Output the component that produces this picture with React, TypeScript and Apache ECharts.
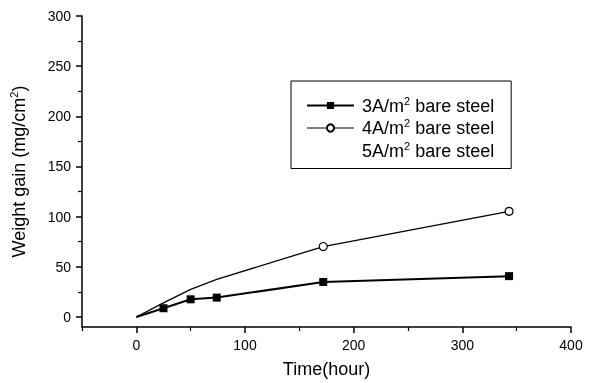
import React, { useEffect, useRef } from "react";
import * as echarts from "echarts";

const hours3A = [0, 25, 50, 74, 172, 343];
const gain3A = [0, 8.7, 17.6, 19.3, 34.9, 40.7];
const hours4A = [0, 24, 50, 74, 172, 343];
const gain4A = [0, 13.5, 27.5, 37.5, 70.2, 105.3];
const seriesNames = ["3A/m{sup|2} bare steel", "4A/m{sup|2} bare steel", "5A/m{sup|2} bare steel"];
const plainNames = ["3A/m2 bare steel", "4A/m2 bare steel", "5A/m2 bare steel"];
const xLabels = [0, 100, 200, 300, 400];
const xMinor = [-50, 50, 150, 250, 350];
const yLabels = [0, 50, 100, 150, 200, 250, 300];
const yMinor = [25, 75, 125, 175, 225, 275];
const circleShown = [false, false, false, false, true, true];
const squareShown = [false, true, true, true, true, true];

const FONT = "Liberation Sans, Arial, sans-serif";

export default function App() {
  const ref = useRef<HTMLDivElement>(null);
  useEffect(() => {
    if (!ref.current) return;
    const chart = echarts.init(ref.current, null, { renderer: "svg" });
    const axisLine = { show: true, onZero: false, lineStyle: { color: "#000", width: 1.5 } };
    const d3 = hours3A.map((h, i) => ({
      value: [h, gain3A[i]],
      symbol: squareShown[i] ? "rect" : "none",
    }));
    const d4 = hours4A.map((h, i) => ({
      value: [h, gain4A[i]],
      symbol: circleShown[i] ? "circle" : "none",
    }));
    const sup = { fontSize: 11, fontFamily: FONT, color: "#000", padding: [0, 0, 10, 0] };
    chart.setOption({
      animation: false,
      textStyle: { fontFamily: FONT },
      grid: { left: 80, right: 20, top: 16, bottom: 55 },
      legend: {
        orient: "vertical",
        left: 291,
        top: 81,
        padding: [14, 17, 9, 15],
        borderColor: "#000",
        borderWidth: 1,
        itemWidth: 47,
        itemHeight: 9,
        itemGap: 3,
        data: [
          { name: plainNames[0] },
          { name: plainNames[1], lineStyle: { width: 1 } },
          { name: plainNames[2], itemStyle: { opacity: 0 }, lineStyle: { opacity: 0 } },
        ],
        formatter: (n: string) => seriesNames[plainNames.indexOf(n)],
        textStyle: {
          fontFamily: FONT,
          fontSize: 18,
          color: "#000",
          padding: [0, 0, 0, 3],
          rich: { sup },
        },
      },
      xAxis: [
        {
          type: "value",
          min: -50,
          max: 400,
          interval: 50,
          name: "Time(hour)",
          nameLocation: "middle",
          nameGap: 33,
          nameTextStyle: { fontFamily: FONT, fontSize: 18, color: "#000" },
          axisLine,
          splitLine: { show: false },
          axisTick: { show: true, customValues: xLabels, length: 6, lineStyle: { color: "#000", width: 1.5 } },
          axisLabel: { customValues: xLabels, fontFamily: FONT, fontSize: 14, color: "#000", margin: 11 },
        },
        {
          type: "value",
          min: -50,
          max: 400,
          interval: 50,
          position: "bottom",
          axisLine: { show: false, onZero: false },
          splitLine: { show: false },
          axisTick: { show: true, customValues: xMinor, length: 4, lineStyle: { color: "#000", width: 1.2 } },
          axisLabel: { show: false },
        },
      ],
      yAxis: [
        {
          type: "value",
          min: -10,
          max: 300,
          name: "Weight gain (mg/cm{sup|2})",
          nameLocation: "middle",
          nameGap: 53,
          nameRotate: 90,
          nameTextStyle: {
            fontFamily: FONT,
            fontSize: 18,
            color: "#000",
            rich: { sup },
          },
          axisLine,
          splitLine: { show: false },
          axisTick: { show: true, customValues: yLabels, length: 6, lineStyle: { color: "#000", width: 1.5 } },
          axisLabel: { customValues: yLabels, fontFamily: FONT, fontSize: 14, color: "#000", margin: 11 },
        },
        {
          type: "value",
          min: -10,
          max: 300,
          position: "left",
          axisLine: { show: false, onZero: false },
          splitLine: { show: false },
          axisTick: { show: true, customValues: yMinor, length: 4, lineStyle: { color: "#000", width: 1.2 } },
          axisLabel: { show: false },
        },
      ],
      series: [
        {
          name: plainNames[0],
          type: "line",
          data: d3,
          symbol: "rect",
          symbolSize: 8,
          showAllSymbol: true,
          color: "#000",
          itemStyle: { color: "#000" },
          lineStyle: { color: "#000", width: 2 },
        },
        {
          name: plainNames[1],
          type: "line",
          data: d4,
          symbol: "circle",
          symbolSize: 8,
          showAllSymbol: true,
          color: "#000",
          itemStyle: { color: "#fff", borderColor: "#000", borderWidth: 1.2 },
          lineStyle: { color: "#000", width: 1.3 },
        },
        {
          name: plainNames[2],
          type: "line",
          data: [],
          symbol: "none",
          color: "#000",
          lineStyle: { opacity: 0 },
        },
      ],
    });
    return () => chart.dispose();
  }, []);
  return <div ref={ref} style={{ position: "fixed", left: 0, top: 0, width: 591, height: 383 }} />;
}
